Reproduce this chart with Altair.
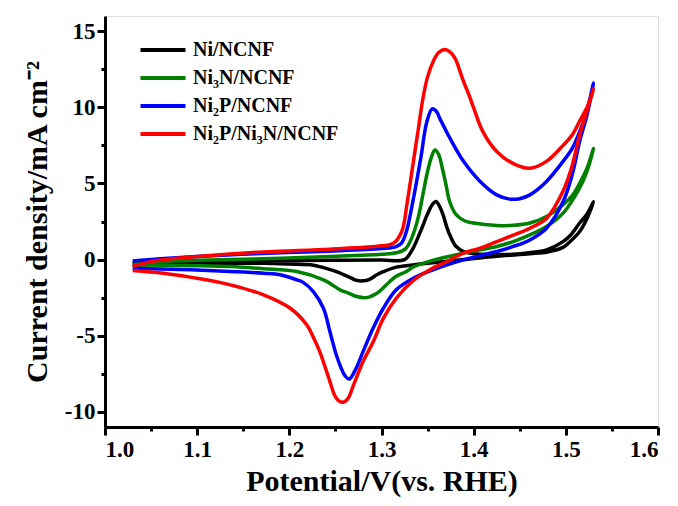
import altair as alt
import pandas as pd

# ---- data (potential in V vs RHE, current density in mA cm^-2) ----
series_names = ["Ni/NCNF", "Ni₃N/NCNF", "Ni₂P/NCNF", "Ni₂P/Ni₃N/NCNF"]
series_colors = ["#000000", "#008000", "#0000FF", "#FF0000"]

ni_v = [1.03, 1.06, 1.10, 1.17, 1.25, 1.30, 1.325, 1.333, 1.342, 1.350, 1.355, 1.359, 1.363, 1.367, 1.371,
        1.375, 1.381, 1.389, 1.40, 1.42, 1.443, 1.46, 1.479, 1.497, 1.505, 1.515, 1.523, 1.53,
        1.523, 1.515, 1.505, 1.497, 1.48, 1.461, 1.425, 1.389, 1.353, 1.334, 1.316, 1.302, 1.295, 1.287,
        1.28, 1.272, 1.265, 1.251, 1.235, 1.226, 1.2, 1.172, 1.10, 1.06, 1.03]
ni_j = [-0.25, -0.17, -0.12, -0.08, -0.05, -0.03, 0.0, 0.6, 1.8, 3.0, 3.6, 3.82, 3.5, 2.9, 2.1,
        1.5, 0.86, 0.53, 0.38, 0.33, 0.35, 0.45, 0.64, 1.18, 1.6, 2.4, 3.0, 3.8,
        2.7, 1.84, 1.2, 0.8, 0.5, 0.38, 0.22, 0.0, -0.22, -0.35, -0.5, -0.8, -1.0, -1.3,
        -1.4, -1.35, -1.15, -0.79, -0.5, -0.37, -0.3, -0.25, -0.25, -0.3, -0.35]

ni3n_v = [1.03, 1.06, 1.10, 1.17, 1.244, 1.30, 1.316, 1.326, 1.334, 1.340, 1.345, 1.350, 1.354, 1.358, 1.362,
          1.366, 1.370, 1.374, 1.381, 1.39, 1.40, 1.425, 1.443, 1.461, 1.479, 1.497, 1.507, 1.515, 1.523, 1.53,
          1.523, 1.515, 1.497, 1.479, 1.461, 1.443, 1.425, 1.389, 1.353, 1.334, 1.327, 1.316, 1.309, 1.302,
          1.295, 1.284, 1.273, 1.264, 1.255, 1.245, 1.237, 1.208, 1.172, 1.136, 1.10, 1.06, 1.03]
ni3n_j = [-0.3, -0.15, -0.05, 0.05, 0.2, 0.35, 0.45, 0.7, 1.6, 2.8, 4.3, 5.8, 6.7, 7.2, 6.9,
          6.0, 4.9, 3.8, 2.95, 2.55, 2.4, 2.24, 2.25, 2.4, 2.83, 3.6, 4.2, 5.0, 6.0, 7.3,
          5.8, 4.7, 3.05, 2.17, 1.62, 1.18, 0.86, 0.42, -0.1, -0.5, -0.79, -1.1, -1.44, -1.85,
          -2.21, -2.5, -2.43, -2.2, -1.99, -1.6, -1.33, -0.79, -0.6, -0.46, -0.4, -0.37, -0.35]

ni2p_v = [1.03, 1.06, 1.10, 1.17, 1.244, 1.30, 1.316, 1.322, 1.327, 1.333, 1.338, 1.343, 1.349, 1.355, 1.360,
          1.363, 1.368, 1.374, 1.389, 1.407, 1.425, 1.439, 1.45, 1.461, 1.479, 1.497, 1.507, 1.515, 1.523, 1.53,
          1.523, 1.515, 1.507, 1.497, 1.479, 1.461, 1.443, 1.425, 1.407, 1.389, 1.371, 1.353, 1.334, 1.316,
          1.302, 1.291, 1.28, 1.272, 1.265, 1.260, 1.256, 1.251, 1.244, 1.237, 1.226, 1.215, 1.208, 1.19,
          1.172, 1.099, 1.06, 1.03]
ni2p_j = [-0.1, 0.05, 0.2, 0.4, 0.55, 0.72, 0.85, 1.1, 1.84, 3.5, 5.1, 6.8, 9.0, 9.9, 9.7,
          9.3, 8.7, 8.0, 6.45, 5.13, 4.25, 3.97, 4.0, 4.25, 5.13, 6.45, 7.3, 8.4, 9.8, 11.6,
          9.5, 7.76, 5.6, 3.8, 2.06, 1.29, 0.86, 0.53, 0.26, -0.02, -0.35, -0.75, -1.25, -1.99,
          -3.2, -4.5, -6.05, -7.2, -7.85, -7.6, -7.1, -6.27, -4.73, -3.2, -2.1, -1.5, -1.33, -1.0,
          -0.9, -0.68, -0.62, -0.57]

hyb_v = [1.03, 1.045, 1.063, 1.10, 1.172, 1.244, 1.30, 1.313, 1.322, 1.328, 1.334, 1.340, 1.345, 1.350, 1.356,
         1.362, 1.369, 1.375, 1.380, 1.385, 1.389, 1.395, 1.40, 1.41, 1.425, 1.443, 1.461, 1.479, 1.497, 1.507,
         1.515, 1.523, 1.53,
         1.523, 1.515, 1.507, 1.497, 1.479, 1.461, 1.443, 1.425, 1.407, 1.389, 1.371, 1.353, 1.334, 1.316,
         1.302, 1.291, 1.28, 1.269, 1.264, 1.258, 1.253, 1.249, 1.244, 1.233, 1.226, 1.219, 1.201, 1.172,
         1.136, 1.099, 1.063, 1.03]
hyb_j = [-0.45, -0.2, -0.02, 0.2, 0.5, 0.68, 0.9, 1.07, 1.84, 3.8, 6.2, 8.6, 10.6, 12.0, 13.0,
         13.6, 13.8, 13.6, 13.2, 12.4, 11.7, 10.8, 9.96, 8.4, 7.1, 6.3, 6.0, 6.45, 7.5, 8.2,
         9.1, 10.0, 11.2,
         9.8, 8.2, 6.2, 4.5, 2.7, 2.06, 1.6, 1.18, 0.75, 0.42, -0.13, -0.65, -1.4, -2.54,
         -3.86, -5.4, -6.7, -8.35, -9.1, -9.38, -9.25, -8.9, -8.0, -6.05, -5.1, -4.3, -3.2, -2.32,
         -1.66, -1.22, -0.9, -0.72]

x_tick_values = [1.0, 1.05, 1.1, 1.15, 1.2, 1.25, 1.3, 1.35, 1.4, 1.45, 1.5, 1.55, 1.6]
y_tick_values = [-10, -7.5, -5, -2.5, 0, 2.5, 5, 7.5, 10, 12.5, 15]

rows = []
for name, vs, js in zip(series_names, [ni_v, ni3n_v, ni2p_v, hyb_v], [ni_j, ni3n_j, ni2p_j, hyb_j]):
    for i, (v, j) in enumerate(zip(vs, js)):
        rows.append({"series": name, "i": i, "V": v, "J": j})
df = pd.DataFrame(rows)

FONT = "Liberation Serif"

x_axis = alt.Axis(
    values=x_tick_values,
    labelExpr="(round(datum.value*100) % 10 == 0) ? format(datum.value, '.1f') : ''",
    tickSize={"condition": {"test": "round(datum.value*100) % 10 == 0", "value": 8}, "value": 4},
    tickWidth=3, tickColor="black", domainWidth=3, domainColor="black",
    labelFont=FONT, labelFontSize=23, labelFontWeight="bold", labelColor="black",
    labelPadding=3, grid=False,
    title="Potential/V(vs. RHE)", titleFont=FONT, titleFontSize=30, titleFontWeight="bold",
    titleColor="black", titlePadding=5,
)
y_axis = alt.Axis(
    values=y_tick_values,
    labelExpr="(datum.value % 5 == 0) ? ('' + datum.value) : ''",
    tickSize={"condition": {"test": "datum.value % 5 == 0", "value": 8}, "value": 4},
    tickWidth=3, tickColor="black", domainWidth=3, domainColor="black",
    labelFont=FONT, labelFontSize=23, labelFontWeight="bold", labelColor="black",
    labelPadding=2, grid=False,
    title="Current density/mA cm⁻²", titleFont=FONT, titleFontSize=30, titleFontWeight="bold",
    titleColor="black", titlePadding=12,
)

chart = alt.Chart(df).mark_line(strokeWidth=3.5, interpolate="catmull-rom").encode(
    x=alt.X("V:Q", scale=alt.Scale(domain=[1.0, 1.6], nice=False, zero=False), axis=x_axis),
    y=alt.Y("J:Q", scale=alt.Scale(domain=[-11, 16], nice=False, zero=False), axis=y_axis),
    color=alt.Color(
        "series:N",
        scale=alt.Scale(domain=series_names, range=series_colors),
        sort=series_names,
        legend=alt.Legend(
            title=None, orient="none", legendX=33, legendY=24, padding=0,
            symbolType="M-1,0H5", symbolSize=225, symbolStrokeWidth=4,
            labelFont=FONT, labelFontSize=20, labelFontWeight="bold", labelColor="black",
            labelOffset=35, rowPadding=8,
        ),
    ),
    order="i:Q",
).properties(
    width=553, height=411,
    autosize=alt.AutoSizeParams(type="none"),
    padding={"left": 105, "top": 16, "right": 20, "bottom": 79},
).configure_view(
    stroke="black", strokeWidth=3
).configure(background="white")

chart.save("out.html", embed_options={"renderer": "svg", "actions": False})
